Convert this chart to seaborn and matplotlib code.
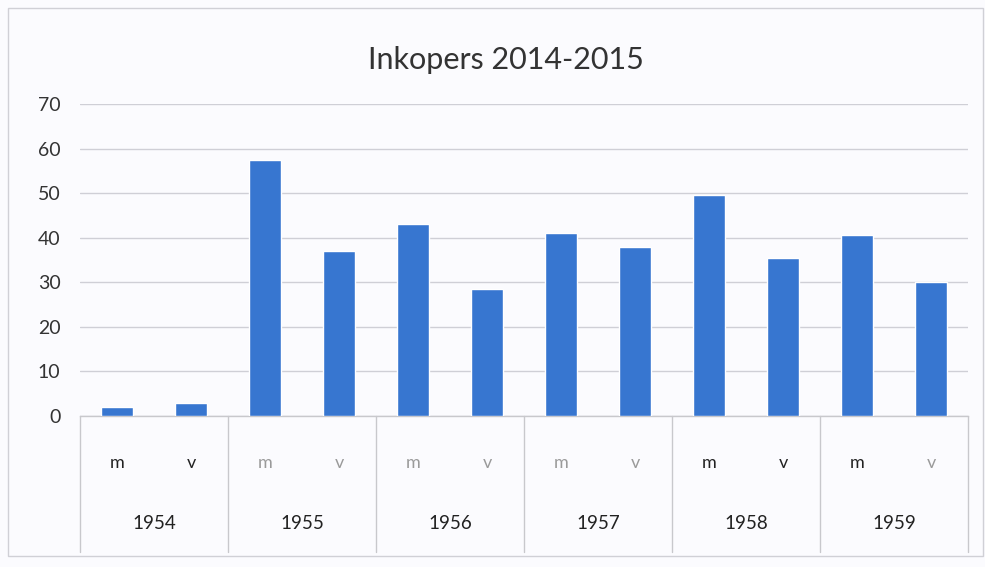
import matplotlib
matplotlib.use("Agg")
import matplotlib.pyplot as plt
import seaborn as sns
import pandas as pd
from matplotlib.patches import Rectangle

years = ["1954", "1955", "1956", "1957", "1958", "1959"]
genders = ["m", "v"]
values_m = [2, 57.5, 43, 41, 49.5, 40.5]
values_v = [3, 37, 28.5, 38, 35.5, 30]
yticks = [0, 10, 20, 30, 40, 50, 60, 70]
title = "Inkopers 2014-2015"
# label colours of the m/v row as seen in the scan (dark or faded)
mv_colors = ["#222222", "#222222", "#9a9a9a", "#9a9a9a", "#9a9a9a", "#9a9a9a",
             "#9a9a9a", "#9a9a9a", "#222222", "#222222", "#222222", "#9a9a9a"]

rows = []
for y, m, v in zip(years, values_m, values_v):
    rows.append({"cat": f"{y}-m", "year": y, "g": "m", "value": m})
    rows.append({"cat": f"{y}-v", "year": y, "g": "v", "value": v})
df = pd.DataFrame(rows)

sns.set_theme(style="white")
plt.rcParams["font.family"] = ["Lato", "DejaVu Sans"]

fig = plt.figure(figsize=(9.85, 5.67), dpi=100)
fig.patch.set_facecolor("#fbfbfe")
ax = fig.add_axes([80/985, 1-416/567, 888/985, 312/567])
ax.set_facecolor("#fbfbfe")

sns.barplot(data=df, x="cat", y="value", color="#3776D0", width=0.44,
            saturation=1, ax=ax, zorder=3)

ax.set_ylim(0, 70)
ax.set_xlim(-0.5, len(df) - 0.5)
ax.set_yticks(yticks)
ax.set_yticklabels([str(t) for t in yticks], fontsize=14, color="#333333")
ax.tick_params(axis="y", length=0, pad=14)
ax.set_xticks([])
ax.set_xlabel("")
ax.set_ylabel("")
ax.grid(axis="y", color="#cfcfd6", linewidth=1, zorder=0)
for s in ["left", "right", "top"]:
    ax.spines[s].set_visible(False)
ax.spines["bottom"].set_color("#c8c8cc")
ax.spines["bottom"].set_linewidth(1)

trans = ax.get_xaxis_transform()
for i, (cat, g) in enumerate(zip(df["cat"], df["g"])):
    ax.text(i, -0.151, g, transform=trans, ha="center", va="center",
            fontsize=13, color=mv_colors[i])
for j, y in enumerate(years):
    ax.text(2*j + 0.5, -0.346, y, transform=trans, ha="center", va="center",
            fontsize=13.5, color="#222222")
for k in range(len(years) + 1):
    x = 2*k - 0.5
    ax.plot([x, x], [0, -0.436], transform=trans, color="#c8c8cc",
            linewidth=1, clip_on=False)

fig.text(506/985, 1-60/567, title, ha="center", va="center",
         fontsize=22, color="#333333")

fig.patches.append(Rectangle((8/985, 1-556/567), 975/985, 548/567,
                             transform=fig.transFigure, fill=False,
                             edgecolor="#d0d0d6", linewidth=1))

fig.savefig("out.png", dpi=100)
